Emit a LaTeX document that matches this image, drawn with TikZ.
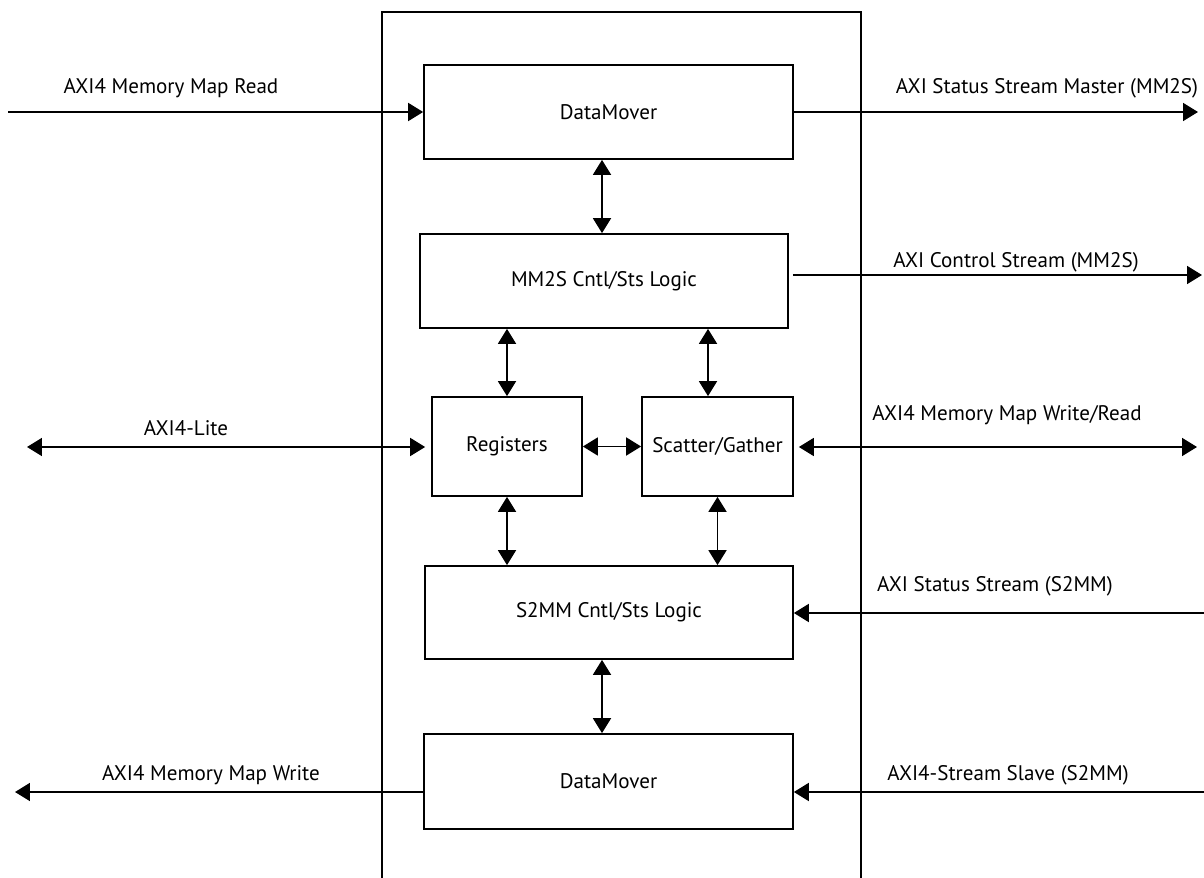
\documentclass[tikz,border=0pt]{standalone}
\usepackage{fontspec}
\setmainfont{PT Sans}
\usetikzlibrary{arrows.meta}

\begin{document}
\begin{tikzpicture}[x=0.02cm, y=-0.02cm,
   blk/.style={draw=black, line width=1pt, inner sep=0pt, font=\fontsize{12}{14}\selectfont},
   tip/.tip={Triangle[length=0.3cm, width=0.36cm]},
   sig/.style={line width=1pt, -tip},
   bisig/.style={line width=1pt, tip-tip},
   lbl/.style={inner sep=0pt, font=\fontsize{12}{14}\selectfont}]
   \useasboundingbox (0,0) rectangle (1204,878);
   % outer frame, open at the bottom
   \draw[line width=1pt] (382,878) -- (382,12) -- (861,12) -- (861,878);
   % blocks
   \node[blk, minimum width=7.38cm, minimum height=1.88cm] (dmrd) at (608.5,112) {DataMover};
   \node[blk, minimum width=7.36cm, minimum height=1.88cm] (mm2s) at (604,281) {MM2S Cntl/Sts Logic};
   \node[blk, minimum width=3cm, minimum height=1.98cm] (regs) at (507,446.5) {Registers};
   \node[blk, minimum width=3.02cm, minimum height=1.98cm] (sg) at (717.5,446.5) {Scatter/Gather};
   \node[blk, minimum width=7.36cm, minimum height=1.86cm] (s2mm) at (609,612.5) {S2MM Cntl/Sts Logic};
   \node[blk, minimum width=7.38cm, minimum height=1.9cm] (dmwr) at (608.5,781.5) {DataMover};
   % inner links
   \coordinate (dmx) at ([xshift=-0.13cm]dmrd.south);
   \coordinate (sgx) at ([xshift=-0.19cm]sg.north);
   \draw[bisig] (dmx) -- (dmx |- mm2s.north);
   \draw[bisig] (mm2s.south -| regs) -- (regs.north);
   \draw[bisig] (mm2s.south -| sgx) -- (sgx);
   \draw[bisig] (regs) -- (sg);
   \draw[bisig] (regs.south) -- (s2mm.north -| regs);
   \draw[bisig] (sg.south) -- (s2mm.north -| sg);
   \draw[bisig] (s2mm.south -| dmx) -- (dmwr.north -| dmx);
   % outside ends
   \coordinate (rdin) at (8,112);
   \coordinate (stsout) at (1198,112);
   \coordinate (ctlout) at (1202,275);
   \coordinate (lite) at (27,447);
   \coordinate (sgmem) at (1197,447);
   \coordinate (s2sts) at (1204,613);
   \coordinate (s2str) at (1204,792);
   \coordinate (wrout) at (15,792);
   % signals
   \draw[sig] (rdin) -- (dmrd.west |- rdin);
   \draw[sig] (dmrd.east |- stsout) -- (stsout);
   \draw[sig] ([xshift=0.08cm]mm2s.east |- ctlout) -- (ctlout);
   \draw[bisig, shorten >=0.12cm] (lite) -- (regs.west |- lite);
   \draw[bisig, shorten <=0.1cm] (sg.east |- sgmem) -- (sgmem);
   \draw[sig] (s2sts) -- (s2mm.east |- s2sts);
   \draw[sig] (s2str) -- (dmwr.east |- s2str);
   \draw[sig] (dmwr.west |- wrout) -- (wrout);
   % signal names
   \node[lbl] (rdlbl) at (171,88) {AXI4 Memory Map Read};
   \node[lbl] (stslbl) at (1047,88) {AXI Status Stream Master (MM2S)};
   \node[lbl] (ctllbl) at (1016,262) {AXI Control Stream (MM2S)};
   \node[lbl] (litelbl) at (186,428) {AXI4-Lite};
   \node[lbl] (sglbl) at (1007,415) {AXI4 Memory Map Write/Read};
   \node[lbl] (s2stslbl) at (995,586) {AXI Status Stream (S2MM)};
   \node[lbl] (s2strlbl) at (1008,775) {AXI4-Stream Slave (S2MM)};
   \node[lbl] (wrlbl) at (211,775) {AXI4 Memory Map Write};
\end{tikzpicture}
\end{document}
